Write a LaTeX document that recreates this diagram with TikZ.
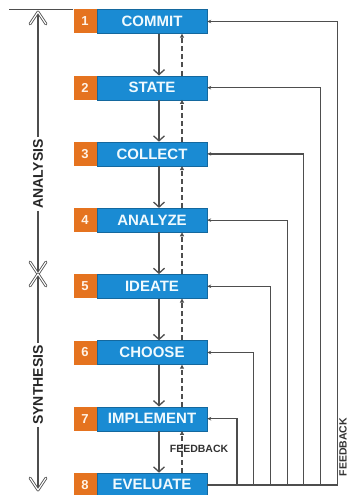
\documentclass[tikz,border=0pt]{standalone}
\usepackage{fontspec}
\setmainfont{Liberation Sans}
\usetikzlibrary{arrows.meta,positioning}
\definecolor{stepblue}{HTML}{1A8BD3}
\definecolor{steporange}{HTML}{E5731F}
\definecolor{linegray}{HTML}{4E4E4E}
\tikzset{
  stepbox/.style={draw=stepblue!75!black, fill=stepblue, text=cyan!6, font=\bfseries\fontsize{15}{15}\selectfont,
    minimum width=110pt, minimum height=24pt, inner sep=0pt},
  numbox/.style={fill=steporange, text=orange!10, font=\bfseries\fontsize{13}{13}\selectfont,
    minimum width=23pt, minimum height=24pt, inner sep=0pt, anchor=east},
  flow/.style={linegray, line width=1.3pt, -{Straight Barb[length=5pt,width=11pt]}},
  back/.style={linegray, line width=1.2pt, dash pattern=on 5pt off 3pt, -{Triangle[length=4pt,width=4pt]}},
  fb/.style={linegray, line width=1.2pt, -{Stealth[length=4pt,width=3.5pt]}},
  phase/.style={rotate=90, fill=white, text=black!85, inner sep=2pt, font=\bfseries\fontsize{14}{14}\selectfont},
  fbtext/.style={text=black!80, inner sep=0pt, font=\bfseries\fontsize{10.5}{10.5}\selectfont},
  chev/.pic={
    \draw[linegray, line width=2.8pt, line cap=round, line join=round] (-8,-12) -- (0,0) -- (8,-12);
    \draw[white, line width=1.2pt, line cap=round, line join=round] (-8,-12) -- (0,0) -- (8,-12);
  }
}
\begin{document}
\begin{tikzpicture}[x=1pt,y=1pt]
  \useasboundingbox (0,0) rectangle (349,-495);
  % the eight steps
  \foreach \name [count=\i] in {COMMIT,STATE,COLLECT,ANALYZE,IDEATE,CHOOSE,IMPLEMENT,EVELUATE} {
    \node[stepbox] (box\i) at (152,{-21.5-66.2*(\i-1)}) {\name};
    \node[numbox] (num\i) at (box\i.west) {\i};
  }
  % forward and backward
  \foreach \i [evaluate=\i as \n using int(\i+1)] in {1,...,7} {
    \draw[flow] ([xshift=7pt]box\i.south) -- ([xshift=7pt]box\n.north);
    \draw[back] ([xshift=30pt]box\n.north) -- ([xshift=30pt]box\i.south);
  }
  \node[fbtext] (fbmid) at (199,-449) {FEEDBACK};
  % feedback loops on the right
  \foreach \i in {1,...,7} {
    \draw[fb] (box8.east) -| ([xshift={130-16.7*(\i-1)}]box\i.east) -- (box\i.east);
  }
  \node[fbtext, rotate=90] (fbright) at (343,-447) {FEEDBACK};
  % analysis / synthesis
  \draw[linegray, line width=1.2pt] (num1.north west) -- ++(-64,0);
  \node[phase] (analysis) at (38,-174) {ANALYSIS};
  \node[phase] (synthesis) at (38,-385) {SYNTHESIS};
  \coordinate (atop) at (38,-12);
  \coordinate (xmid) at (38,-274);
  \coordinate (sbot) at (38,-490);
  \draw[linegray, line width=1.2pt] (analysis) -- (atop);
  \draw[linegray, line width=1.2pt] (analysis) -- (xmid);
  \draw[linegray, line width=1.2pt] (synthesis) -- (xmid);
  \draw[linegray, line width=1.2pt] (synthesis) -- (sbot);
  \pic at (atop) {chev};
  \pic[rotate=180] at (xmid) {chev};
  \pic at (xmid) {chev};
  \pic[rotate=180] at (sbot) {chev};
\end{tikzpicture}
\end{document}
